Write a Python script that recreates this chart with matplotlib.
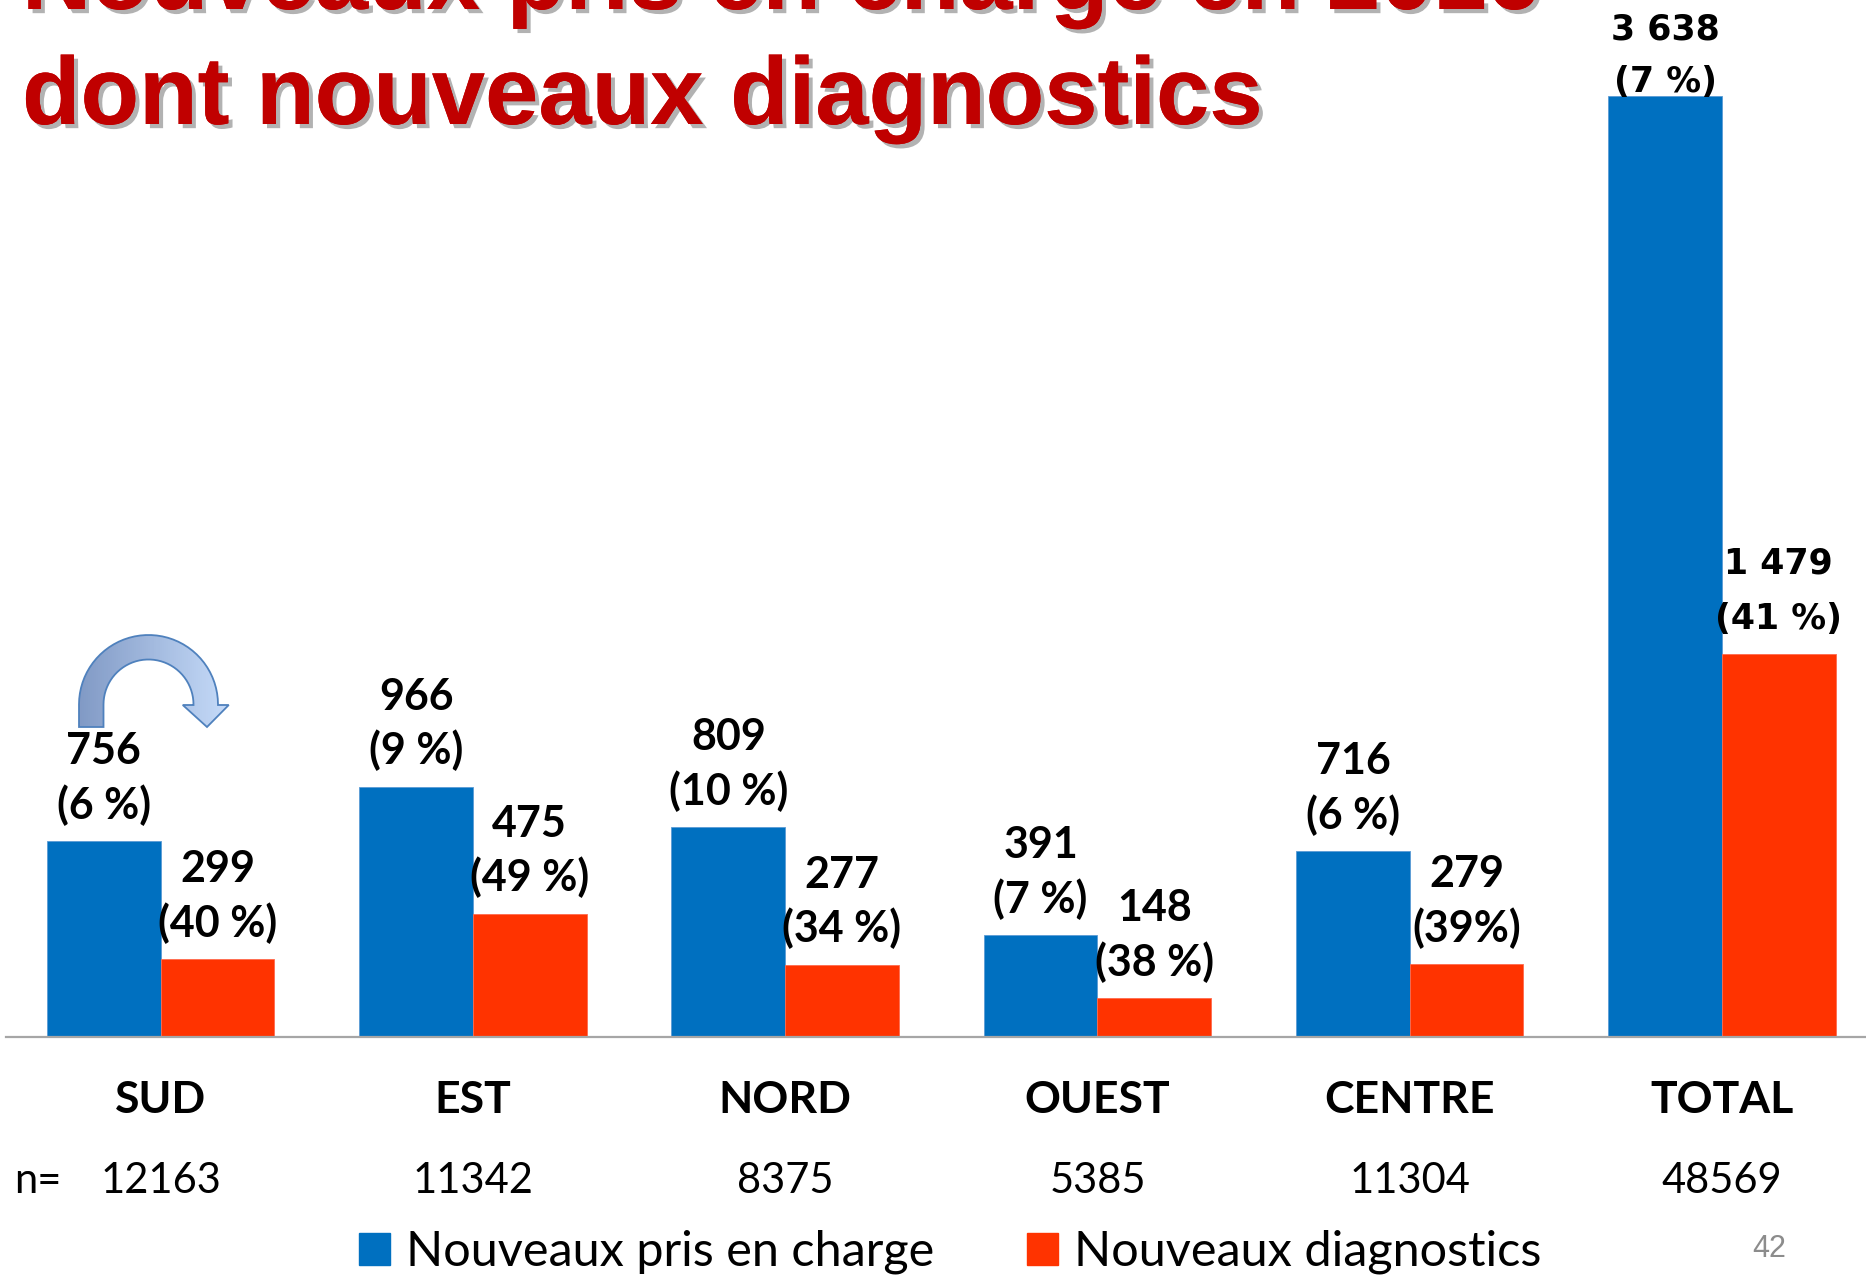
import numpy as np
import matplotlib
matplotlib.use("Agg")
import matplotlib.pyplot as plt
import matplotlib.patheffects as pe
from matplotlib.colors import LinearSegmentedColormap
from matplotlib.patches import Patch, Polygon, Rectangle

# ---------------------------------------------------------------------------
# Data
# ---------------------------------------------------------------------------
regions = ["SUD", "EST", "NORD", "OUEST", "CENTRE", "TOTAL"]
n_patients = [12163, 11342, 8375, 5385, 11304, 48569]
nouveaux_pec = [756, 966, 809, 391, 716, 3638]
nouveaux_diag = [299, 475, 277, 148, 279, 1479]
pct_pec = ["(6 %)", "(9 %)", "(10 %)", "(7 %)", "(6 %)", "(7 %)"]
pct_diag = ["(40 %)", "(49 %)", "(34 %)", "(38 %)", "(39%)", "(41 %)"]

title_lines = ["Nouveaux pris en charge en 2016", "dont nouveaux diagnostics"]
legend_labels = ["Nouveaux pris en charge", "Nouveaux diagnostics"]

BLUE = "#0070C0"
RED = "#FF3300"
TITLE_RED = "#C00000"

W, H = 1866, 1279
LABEL_FONT = "Lato"
TOTAL_FONT = "DejaVu Sans"


def fmt_num(v):
    return f"{v:,}".replace(",", " ")


def curved_arrow_outline(cx, cy, R, r, leg_bottom, head_y, head_half, tip):
    """Outline of a U-turn arrow (pixel coords, y up)."""
    t = np.linspace(np.pi, 0, 40)
    outer = np.column_stack([cx + R * np.cos(t), cy + R * np.sin(t)])
    inner = np.column_stack([cx + r * np.cos(t[::-1]), cy + r * np.sin(t[::-1])])
    mid_r = cx + (R + r) / 2
    pts = [(cx - R, leg_bottom)]
    pts += list(map(tuple, outer))
    pts += [(cx + R, head_y), (mid_r + head_half, head_y), tip,
            (mid_r - head_half, head_y), (cx + r, head_y)]
    pts += list(map(tuple, inner))
    pts += [(cx - r, leg_bottom)]
    return np.array(pts)


fig = plt.figure(figsize=(W / 100, H / 100), dpi=100)
ax = fig.add_axes([6 / W, 242.5 / H, 1 - 6 / W, 1036.5 / H])

x = np.arange(len(regions))
bw = 0.364
ax.bar(x - bw / 2, nouveaux_pec, bw, color=BLUE, edgecolor="#5B9BD5", linewidth=0.6)
ax.bar(x + bw / 2, nouveaux_diag, bw, color=RED, edgecolor="#FF6A4D", linewidth=0.6)

ax.set_xlim(-0.495, 5.461)
ax.set_ylim(0, 4011)
ax.set_xticks([])
ax.set_yticks([])
for side in ["top", "right", "left"]:
    ax.spines[side].set_visible(False)
ax.spines["bottom"].set_color("#A6A6A6")
ax.spines["bottom"].set_linewidth(1.6)

# value labels above the bars (two lines: count, share)
last = len(regions) - 1
for i in range(len(regions)):
    for val, pct, xc in [(nouveaux_pec[i], pct_pec[i], x[i] - bw / 2),
                         (nouveaux_diag[i], pct_diag[i], x[i] + bw / 2)]:
        if i == last:
            fam, fs = TOTAL_FONT, 25
            offs = (41, 3.5) if val == nouveaux_pec[i] else (58.5, 18.5)
        else:
            fam, fs = LABEL_FONT, 31
            offs = (55.6, 16.2)
        for txt, off in zip([fmt_num(val), pct], offs):
            ax.annotate(txt, xy=(xc, val), xytext=(0, off),
                        textcoords="offset points", ha="center", va="baseline",
                        fontsize=fs, fontweight="bold", family=fam,
                        color="black", annotation_clip=False)

# region names and sample sizes under the axis
tr = ax.get_xaxis_transform()
for i, name in enumerate(regions):
    ax.text(x[i], -76.5 / 1036.5, name, transform=tr, ha="center",
            va="baseline", fontsize=32, fontweight="bold", family=LABEL_FONT)
    ax.text(x[i], -156.5 / 1036.5, str(n_patients[i]), transform=tr,
            ha="center", va="baseline", fontsize=30, family=LABEL_FONT)
fig.text(14 / W, 1 - 1193 / H, "n=", ha="left", va="baseline",
         fontsize=30, family=LABEL_FONT)

# legend
handles = [Patch(color=BLUE, label=legend_labels[0]),
           Patch(color=RED, label=legend_labels[1])]
fig.legend(handles=handles, loc="center left",
           bbox_to_anchor=(359 / W, 27 / H), ncol=2, frameon=False,
           prop={"family": LABEL_FONT, "size": 35},
           handlelength=0.64, handleheight=0.64, handletextpad=0.33,
           columnspacing=1.9, borderpad=0, borderaxespad=0)

# title (first line is cut by the top edge, as on the slide)
shadow = [pe.withSimplePatchShadow(offset=(3, -3), shadow_rgbFace="#7F7F7F",
                                   alpha=0.6), pe.Normal()]
for txt, base in zip(title_lines, [9, 124]):
    fig.text(22 / W, 1 - base / H, txt, ha="left", va="baseline",
             fontsize=69, fontweight="bold", family="Liberation Sans",
             color=TITLE_RED, path_effects=shadow)

# curved arrow above SUD, filled with a light-blue gradient (clipped strips)
pts = curved_arrow_outline(cx=148.5, cy=H - 704.5, R=69.5, r=45,
                           leg_bottom=H - 727, head_y=H - 705,
                           head_half=23, tip=(207, H - 727))
x0, x1, y0, y1 = 70, 240, H - 732, H - 628
aax = fig.add_axes([x0 / W, y0 / H, (x1 - x0) / W, (y1 - y0) / H])
aax.set_xlim(x0, x1)
aax.set_ylim(y0, y1)
aax.axis("off")
aax.patch.set_visible(False)
outline = Polygon(pts, closed=True, facecolor="none", edgecolor="#4F81BD",
                  linewidth=1.3, zorder=3)
aax.add_patch(outline)
grad_cmap = LinearSegmentedColormap.from_list("arrow", ["#7D96C2", "#CADFFC"])
edges = np.linspace(x0, x1, 86)
for k in range(len(edges) - 1):
    strip = Rectangle((edges[k], y0), edges[k + 1] - edges[k] + 0.5, y1 - y0,
                      facecolor=grad_cmap(k / (len(edges) - 2)),
                      edgecolor="none", zorder=2)
    aax.add_patch(strip)
    strip.set_clip_path(outline)

# slide number
fig.text(1752 / W, 1 - 1257 / H, "42", ha="left", va="baseline",
         fontsize=22, family="Liberation Sans", color="#8C8C8C")

fig.savefig("out.png", dpi=100)
